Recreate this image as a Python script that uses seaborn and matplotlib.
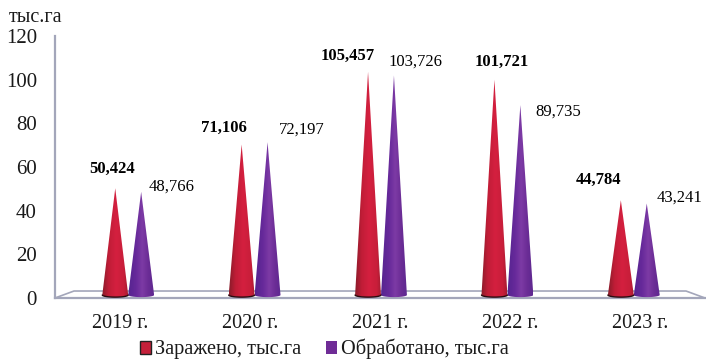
import numpy as np
import pandas as pd
import seaborn as sns
import matplotlib.pyplot as plt
from matplotlib.colors import LinearSegmentedColormap
from matplotlib.patches import Patch
from matplotlib.path import Path

years = ["2019 г.", "2020 г.", "2021 г.", "2022 г.", "2023 г."]
infected = [50.424, 71.106, 105.457, 101.721, 44.784]
treated = [48.766, 72.197, 103.726, 89.735, 43.241]
series_names = ["Заражено, тыс.га", "Обработано, тыс.га"]
y_ticks = [0, 20, 40, 60, 80, 100, 120]

W, H = 706, 359
sns.set_theme(style="white")
plt.rcParams["font.family"] = ["Liberation Serif", "DejaVu Serif"]
text_color = "#1a1a1a"
wall_color = "#a3a6ba"

fig = plt.figure(figsize=(W / 100, H / 100), dpi=100, facecolor="white")


def box(x0, x1, y_top, y_bottom):
    return [x0 / W, 1 - y_bottom / H, (x1 - x0) / W, (y_bottom - y_top) / H]


# front plane: axis, tick labels and floor
frame = fig.add_axes(box(55, 705, 36, 298))
frame.set_xlim(0, 5)
frame.set_ylim(0, 120)
frame.set_yticks(y_ticks)
frame.set_xticks(np.arange(5) + 0.5)
frame.set_xticklabels(years)
frame.tick_params(axis="y", length=0, pad=13, labelsize=15, labelcolor=text_color)
frame.tick_params(axis="x", length=0, pad=11.5, labelsize=14.5, labelcolor=text_color)
for name in ["top", "right"]:
    frame.spines[name].set_visible(False)
for name in ["left", "bottom"]:
    frame.spines[name].set_color(wall_color)
    frame.spines[name].set_linewidth(1.6)
frame.plot([0, 0.146, 4.854, 5], [0, 3.2, 3.2, 0], color=wall_color, lw=1.2, clip_on=False)

# cones sit a bit deeper than the front plane
ax = fig.add_axes(box(65, 697, 41, 295 + 5 * 2.117))
ax.patch.set_alpha(0)

df = pd.DataFrame({
    "year": years * 2,
    "value": infected + treated,
    "series": [series_names[0]] * 5 + [series_names[1]] * 5,
})
sns.barplot(data=df, x="year", y="value", hue="series", width=0.41, ax=ax, legend=False,
            palette=["#c8203a", "#6a2a92"])
ax.axis("off")

red_map = LinearSegmentedColormap.from_list(
    "red", [(0, "#8a1b2a"), (0.25, "#c01d37"), (0.55, "#d4203f"), (0.85, "#c81e3a"), (1, "#a81c32")])
purple_map = LinearSegmentedColormap.from_list(
    "purple", [(0, "#562490"), (0.3, "#66299a"), (0.55, "#7d3aa5"), (0.8, "#6a2c95"), (1, "#5f2890")])
ramp = np.linspace(0, 1, 64).reshape(1, -1)

# offsets of the value labels from the cone tips, pixels
red_offsets = [(-3, 19), (-18, 17), (-20, 16), (7, 18), (-22, 20)]
purple_offsets = [(30, 5), (34, 13), (22, 14), (38, -7), (33, 6)]

for container, cmap, offsets, weight, rim in zip(
        ax.containers, [red_map, purple_map], [red_offsets, purple_offsets],
        ["bold", "normal"], ["#2a0a10", None]):
    for bar, offset in zip(container, offsets):
        x0, w, h = bar.get_x(), bar.get_width(), bar.get_height()
        cx = x0 + w / 2
        t = np.linspace(np.pi, 2 * np.pi, 30)
        arc_x = cx + w / 2 * np.cos(t)
        arc_y = 1.0 * np.sin(t)
        verts = np.vstack([np.column_stack([arc_x, arc_y]), [cx, h], [arc_x[0], arc_y[0]]])
        im = ax.imshow(ramp, cmap=cmap, extent=(x0, x0 + w, -1.5, h), aspect="auto", zorder=3)
        im.set_clip_path(Path(verts), ax.transData)
        if rim:
            ax.plot(arc_x, arc_y, color=rim, lw=1.0, zorder=4)
        bar.set_visible(False)
        ax.annotate(f"{h:.3f}".replace(".", ","), xy=(cx, h), xytext=offset,
                    textcoords="offset pixels", ha="center", va="center",
                    fontsize=12, fontweight=weight, color="black", annotation_clip=False)

ax.set_ylim(-5, 120)
ax.set_xlim(-0.5, 4.5)

fig.text(9 / W, 1 - 18 / H, "тыс.га", fontsize=14.5, ha="left", va="center", color=text_color)

handles = [Patch(facecolor="#c4203a", edgecolor="#222222", lw=1.0),
           Patch(facecolor="#6f2c96", edgecolor="none")]
fig.legend(handles, series_names, loc="center", bbox_to_anchor=(324.5 / W, 1 - 349 / H), ncol=2,
           frameon=False, fontsize=14.6, handlelength=0.55, handleheight=0.6, handletextpad=0.2,
           columnspacing=1.2, labelcolor=text_color, borderpad=0)

fig.savefig("out.png", dpi=100)
